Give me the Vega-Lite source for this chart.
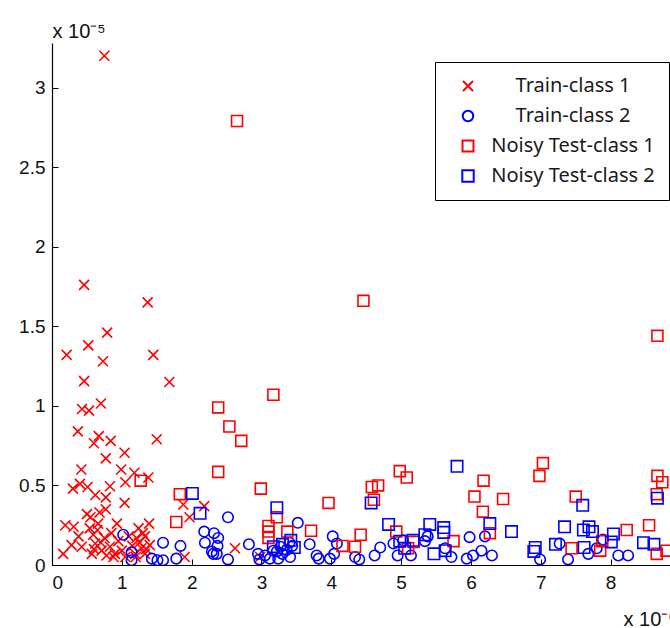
{
  "$schema": "https://vega.github.io/schema/vega-lite/v6.json",
  "width": 618,
  "height": 522,
  "autosize": {"type": "none"},
  "padding": {"left": 52, "top": 43, "right": 0, "bottom": 63},
  "background": "white",
  "config": {
    "view": {"stroke": null},
    "axis": {
      "domainColor": "black",
      "domainWidth": 1.2,
      "tickColor": "black",
      "tickWidth": 1,
      "grid": false,
      "labelFont": "Liberation Sans",
      "labelFontSize": 19,
      "labelColor": "#111111",
      "titleFont": "Liberation Sans",
      "titleFontSize": 20,
      "titleFontWeight": "normal",
      "titleColor": "#111111"
    },
    "legend": {
      "labelFont": "Noto Sans",
      "labelFontSize": 20,
      "labelColor": "#1a1a1a",
      "labelLimit": 400
    }
  },
  "data": {
    "values": [
      {"series": "Train-class 1", "x": 0.75, "y": 3.2},
      {"series": "Train-class 1", "x": 0.46, "y": 1.76},
      {"series": "Train-class 1", "x": 1.37, "y": 1.65},
      {"series": "Train-class 1", "x": 0.79, "y": 1.46},
      {"series": "Train-class 1", "x": 0.52, "y": 1.38},
      {"series": "Train-class 1", "x": 0.21, "y": 1.32},
      {"series": "Train-class 1", "x": 0.73, "y": 1.28},
      {"series": "Train-class 1", "x": 1.45, "y": 1.32},
      {"series": "Train-class 1", "x": 0.46, "y": 1.155},
      {"series": "Train-class 1", "x": 1.68, "y": 1.15},
      {"series": "Train-class 1", "x": 0.7, "y": 1.015},
      {"series": "Train-class 1", "x": 0.43, "y": 0.98},
      {"series": "Train-class 1", "x": 0.53, "y": 0.97},
      {"series": "Train-class 1", "x": 0.37, "y": 0.84},
      {"series": "Train-class 1", "x": 0.67, "y": 0.81},
      {"series": "Train-class 1", "x": 0.6, "y": 0.765},
      {"series": "Train-class 1", "x": 0.84, "y": 0.78},
      {"series": "Train-class 1", "x": 1.5, "y": 0.79},
      {"series": "Train-class 1", "x": 1.04, "y": 0.705},
      {"series": "Train-class 1", "x": 0.77, "y": 0.67},
      {"series": "Train-class 1", "x": 0.42, "y": 0.6},
      {"series": "Train-class 1", "x": 0.99, "y": 0.6},
      {"series": "Train-class 1", "x": 1.18, "y": 0.58},
      {"series": "Train-class 1", "x": 1.05, "y": 0.52},
      {"series": "Train-class 1", "x": 1.38, "y": 0.55},
      {"series": "Train-class 1", "x": 0.3, "y": 0.48},
      {"series": "Train-class 1", "x": 0.4, "y": 0.51},
      {"series": "Train-class 1", "x": 0.51, "y": 0.49},
      {"series": "Train-class 1", "x": 0.83, "y": 0.495},
      {"series": "Train-class 1", "x": 0.62, "y": 0.44},
      {"series": "Train-class 1", "x": 0.77, "y": 0.425},
      {"series": "Train-class 1", "x": 1.04, "y": 0.39},
      {"series": "Train-class 1", "x": 1.88, "y": 0.38},
      {"series": "Train-class 1", "x": 1.97, "y": 0.3},
      {"series": "Train-class 1", "x": 0.5, "y": 0.32},
      {"series": "Train-class 1", "x": 0.77, "y": 0.35},
      {"series": "Train-class 1", "x": 0.19, "y": 0.25},
      {"series": "Train-class 1", "x": 0.31, "y": 0.24},
      {"series": "Train-class 1", "x": 0.54, "y": 0.23},
      {"series": "Train-class 1", "x": 0.66, "y": 0.26},
      {"series": "Train-class 1", "x": 0.93, "y": 0.26},
      {"series": "Train-class 1", "x": 1.39, "y": 0.26},
      {"series": "Train-class 1", "x": 1.24, "y": 0.23},
      {"series": "Train-class 1", "x": 0.38, "y": 0.18},
      {"series": "Train-class 1", "x": 0.59, "y": 0.19},
      {"series": "Train-class 1", "x": 0.75, "y": 0.17},
      {"series": "Train-class 1", "x": 1.21, "y": 0.17},
      {"series": "Train-class 1", "x": 1.33, "y": 0.18},
      {"series": "Train-class 1", "x": 0.16, "y": 0.07},
      {"series": "Train-class 1", "x": 0.28, "y": 0.125},
      {"series": "Train-class 1", "x": 0.425, "y": 0.115},
      {"series": "Train-class 1", "x": 0.62, "y": 0.135},
      {"series": "Train-class 1", "x": 0.71, "y": 0.09},
      {"series": "Train-class 1", "x": 0.83, "y": 0.115},
      {"series": "Train-class 1", "x": 0.9, "y": 0.07},
      {"series": "Train-class 1", "x": 0.78, "y": 0.06},
      {"series": "Train-class 1", "x": 1.0, "y": 0.09},
      {"series": "Train-class 1", "x": 1.28, "y": 0.105},
      {"series": "Train-class 1", "x": 1.4, "y": 0.125},
      {"series": "Train-class 1", "x": 1.33, "y": 0.07},
      {"series": "Train-class 1", "x": 1.9, "y": 0.05},
      {"series": "Train-class 1", "x": 1.19, "y": 0.07},
      {"series": "Train-class 1", "x": 0.57, "y": 0.07},
      {"series": "Train-class 1", "x": 0.65, "y": 0.22},
      {"series": "Train-class 1", "x": 0.7, "y": 0.14},
      {"series": "Train-class 1", "x": 0.85, "y": 0.2},
      {"series": "Train-class 1", "x": 0.95, "y": 0.15},
      {"series": "Train-class 1", "x": 1.1, "y": 0.18},
      {"series": "Train-class 1", "x": 1.15, "y": 0.12},
      {"series": "Train-class 1", "x": 1.25, "y": 0.14},
      {"series": "Train-class 1", "x": 1.3, "y": 0.2},
      {"series": "Train-class 1", "x": 0.6, "y": 0.1},
      {"series": "Train-class 1", "x": 0.88, "y": 0.05},
      {"series": "Train-class 1", "x": 1.05, "y": 0.05},
      {"series": "Train-class 1", "x": 1.2, "y": 0.05},
      {"series": "Train-class 1", "x": 0.55, "y": 0.3},
      {"series": "Train-class 1", "x": 0.68, "y": 0.33},
      {"series": "Train-class 1", "x": 1.35, "y": 0.1},
      {"series": "Train-class 1", "x": 2.18, "y": 0.37},
      {"series": "Train-class 1", "x": 2.62, "y": 0.105},
      {"series": "Train-class 1", "x": 2.98, "y": 0.05},

      {"series": "Train-class 2", "x": 1.02, "y": 0.19},
      {"series": "Train-class 2", "x": 1.14, "y": 0.08},
      {"series": "Train-class 2", "x": 1.14, "y": 0.03},
      {"series": "Train-class 2", "x": 1.43, "y": 0.04},
      {"series": "Train-class 2", "x": 1.51, "y": 0.03},
      {"series": "Train-class 2", "x": 1.59, "y": 0.14},
      {"series": "Train-class 2", "x": 1.59, "y": 0.03},
      {"series": "Train-class 2", "x": 1.78, "y": 0.04},
      {"series": "Train-class 2", "x": 1.84, "y": 0.12},
      {"series": "Train-class 2", "x": 2.18, "y": 0.21},
      {"series": "Train-class 2", "x": 2.32, "y": 0.2},
      {"series": "Train-class 2", "x": 2.19, "y": 0.14},
      {"series": "Train-class 2", "x": 2.38, "y": 0.17},
      {"series": "Train-class 2", "x": 2.37, "y": 0.12},
      {"series": "Train-class 2", "x": 2.29, "y": 0.085},
      {"series": "Train-class 2", "x": 2.36, "y": 0.07},
      {"series": "Train-class 2", "x": 2.31, "y": 0.07},
      {"series": "Train-class 2", "x": 2.52, "y": 0.3},
      {"series": "Train-class 2", "x": 2.52, "y": 0.035},
      {"series": "Train-class 2", "x": 2.82, "y": 0.13},
      {"series": "Train-class 2", "x": 2.95, "y": 0.07},
      {"series": "Train-class 2", "x": 2.97, "y": 0.035},
      {"series": "Train-class 2", "x": 3.05, "y": 0.06},
      {"series": "Train-class 2", "x": 3.12, "y": 0.04},
      {"series": "Train-class 2", "x": 3.17, "y": 0.09},
      {"series": "Train-class 2", "x": 3.22, "y": 0.085},
      {"series": "Train-class 2", "x": 3.27, "y": 0.115},
      {"series": "Train-class 2", "x": 3.24, "y": 0.04},
      {"series": "Train-class 2", "x": 3.3, "y": 0.07},
      {"series": "Train-class 2", "x": 3.36, "y": 0.095},
      {"series": "Train-class 2", "x": 3.41, "y": 0.05},
      {"series": "Train-class 2", "x": 3.44, "y": 0.12},
      {"series": "Train-class 2", "x": 3.4, "y": 0.14},
      {"series": "Train-class 2", "x": 3.52, "y": 0.265},
      {"series": "Train-class 2", "x": 3.69, "y": 0.13},
      {"series": "Train-class 2", "x": 3.79, "y": 0.06},
      {"series": "Train-class 2", "x": 3.82, "y": 0.04},
      {"series": "Train-class 2", "x": 3.98, "y": 0.04},
      {"series": "Train-class 2", "x": 4.02, "y": 0.18},
      {"series": "Train-class 2", "x": 4.08, "y": 0.135},
      {"series": "Train-class 2", "x": 4.04, "y": 0.07},
      {"series": "Train-class 2", "x": 4.34, "y": 0.05},
      {"series": "Train-class 2", "x": 4.4, "y": 0.035},
      {"series": "Train-class 2", "x": 4.62, "y": 0.06},
      {"series": "Train-class 2", "x": 4.7, "y": 0.11},
      {"series": "Train-class 2", "x": 4.89, "y": 0.135},
      {"series": "Train-class 2", "x": 4.95, "y": 0.06},
      {"series": "Train-class 2", "x": 5.03, "y": 0.155},
      {"series": "Train-class 2", "x": 5.14, "y": 0.06},
      {"series": "Train-class 2", "x": 5.34, "y": 0.15},
      {"series": "Train-class 2", "x": 5.38, "y": 0.18},
      {"series": "Train-class 2", "x": 5.63, "y": 0.105},
      {"series": "Train-class 2", "x": 5.72, "y": 0.05},
      {"series": "Train-class 2", "x": 5.94, "y": 0.04},
      {"series": "Train-class 2", "x": 5.98, "y": 0.175},
      {"series": "Train-class 2", "x": 6.03, "y": 0.06},
      {"series": "Train-class 2", "x": 6.15, "y": 0.09},
      {"series": "Train-class 2", "x": 6.2, "y": 0.18},
      {"series": "Train-class 2", "x": 6.3, "y": 0.06},
      {"series": "Train-class 2", "x": 6.99, "y": 0.035},
      {"series": "Train-class 2", "x": 7.27, "y": 0.135},
      {"series": "Train-class 2", "x": 7.39, "y": 0.035},
      {"series": "Train-class 2", "x": 7.68, "y": 0.07},
      {"series": "Train-class 2", "x": 7.8, "y": 0.105},
      {"series": "Train-class 2", "x": 7.89, "y": 0.16},
      {"series": "Train-class 2", "x": 8.11, "y": 0.06},
      {"series": "Train-class 2", "x": 8.25, "y": 0.06},

      {"series": "Noisy Test-class 1", "x": 2.65, "y": 2.79},
      {"series": "Noisy Test-class 1", "x": 4.46, "y": 1.66},
      {"series": "Noisy Test-class 1", "x": 8.67, "y": 1.44},
      {"series": "Noisy Test-class 1", "x": 3.17, "y": 1.07},
      {"series": "Noisy Test-class 1", "x": 2.38, "y": 0.99},
      {"series": "Noisy Test-class 1", "x": 2.54, "y": 0.87},
      {"series": "Noisy Test-class 1", "x": 2.71, "y": 0.78},
      {"series": "Noisy Test-class 1", "x": 2.38, "y": 0.585},
      {"series": "Noisy Test-class 1", "x": 2.99, "y": 0.48},
      {"series": "Noisy Test-class 1", "x": 3.96, "y": 0.39},
      {"series": "Noisy Test-class 1", "x": 3.1, "y": 0.245},
      {"series": "Noisy Test-class 1", "x": 3.1, "y": 0.21},
      {"series": "Noisy Test-class 1", "x": 3.1, "y": 0.17},
      {"series": "Noisy Test-class 1", "x": 3.22, "y": 0.3},
      {"series": "Noisy Test-class 1", "x": 3.37, "y": 0.21},
      {"series": "Noisy Test-class 1", "x": 3.71, "y": 0.215},
      {"series": "Noisy Test-class 1", "x": 4.16, "y": 0.12},
      {"series": "Noisy Test-class 1", "x": 4.34, "y": 0.115},
      {"series": "Noisy Test-class 1", "x": 4.42, "y": 0.19},
      {"series": "Noisy Test-class 1", "x": 4.58, "y": 0.49},
      {"series": "Noisy Test-class 1", "x": 4.67, "y": 0.5},
      {"series": "Noisy Test-class 1", "x": 4.61, "y": 0.41},
      {"series": "Noisy Test-class 1", "x": 4.98, "y": 0.59},
      {"series": "Noisy Test-class 1", "x": 5.08, "y": 0.55},
      {"series": "Noisy Test-class 1", "x": 4.93, "y": 0.21},
      {"series": "Noisy Test-class 1", "x": 5.1, "y": 0.105},
      {"series": "Noisy Test-class 1", "x": 5.18, "y": 0.145},
      {"series": "Noisy Test-class 1", "x": 5.75, "y": 0.15},
      {"series": "Noisy Test-class 1", "x": 6.18, "y": 0.53},
      {"series": "Noisy Test-class 1", "x": 6.05, "y": 0.43},
      {"series": "Noisy Test-class 1", "x": 6.17, "y": 0.335},
      {"series": "Noisy Test-class 1", "x": 6.46, "y": 0.415},
      {"series": "Noisy Test-class 1", "x": 6.27, "y": 0.2},
      {"series": "Noisy Test-class 1", "x": 7.03, "y": 0.64},
      {"series": "Noisy Test-class 1", "x": 6.98, "y": 0.56},
      {"series": "Noisy Test-class 1", "x": 7.5, "y": 0.43},
      {"series": "Noisy Test-class 1", "x": 7.44, "y": 0.105},
      {"series": "Noisy Test-class 1", "x": 7.85, "y": 0.09},
      {"series": "Noisy Test-class 1", "x": 7.88, "y": 0.15},
      {"series": "Noisy Test-class 1", "x": 8.23, "y": 0.22},
      {"series": "Noisy Test-class 1", "x": 8.55, "y": 0.25},
      {"series": "Noisy Test-class 1", "x": 8.67, "y": 0.56},
      {"series": "Noisy Test-class 1", "x": 8.74, "y": 0.52},
      {"series": "Noisy Test-class 1", "x": 8.66, "y": 0.445},
      {"series": "Noisy Test-class 1", "x": 8.66, "y": 0.07},
      {"series": "Noisy Test-class 1", "x": 8.8, "y": 0.09},
      {"series": "Noisy Test-class 1", "x": 1.27, "y": 0.53},
      {"series": "Noisy Test-class 1", "x": 1.83, "y": 0.445},
      {"series": "Noisy Test-class 1", "x": 1.78, "y": 0.27},

      {"series": "Noisy Test-class 2", "x": 2.01, "y": 0.45},
      {"series": "Noisy Test-class 2", "x": 2.12, "y": 0.325},
      {"series": "Noisy Test-class 2", "x": 3.22, "y": 0.36},
      {"series": "Noisy Test-class 2", "x": 3.42, "y": 0.155},
      {"series": "Noisy Test-class 2", "x": 3.17, "y": 0.115},
      {"series": "Noisy Test-class 2", "x": 3.47, "y": 0.11},
      {"series": "Noisy Test-class 2", "x": 3.3, "y": 0.13},
      {"series": "Noisy Test-class 2", "x": 4.57, "y": 0.39},
      {"series": "Noisy Test-class 2", "x": 4.82, "y": 0.255},
      {"series": "Noisy Test-class 2", "x": 4.98, "y": 0.15},
      {"series": "Noisy Test-class 2", "x": 5.05, "y": 0.105},
      {"series": "Noisy Test-class 2", "x": 5.41, "y": 0.255},
      {"series": "Noisy Test-class 2", "x": 5.61, "y": 0.235},
      {"series": "Noisy Test-class 2", "x": 5.61, "y": 0.205},
      {"series": "Noisy Test-class 2", "x": 5.34, "y": 0.19},
      {"series": "Noisy Test-class 2", "x": 5.17, "y": 0.155},
      {"series": "Noisy Test-class 2", "x": 5.47, "y": 0.07},
      {"series": "Noisy Test-class 2", "x": 5.63, "y": 0.09},
      {"series": "Noisy Test-class 2", "x": 5.8, "y": 0.62},
      {"series": "Noisy Test-class 2", "x": 6.27, "y": 0.26},
      {"series": "Noisy Test-class 2", "x": 6.58, "y": 0.21},
      {"series": "Noisy Test-class 2", "x": 6.9, "y": 0.085},
      {"series": "Noisy Test-class 2", "x": 6.92, "y": 0.11},
      {"series": "Noisy Test-class 2", "x": 7.21, "y": 0.13},
      {"series": "Noisy Test-class 2", "x": 7.34, "y": 0.24},
      {"series": "Noisy Test-class 2", "x": 7.6, "y": 0.375},
      {"series": "Noisy Test-class 2", "x": 7.61, "y": 0.22},
      {"series": "Noisy Test-class 2", "x": 7.69, "y": 0.24},
      {"series": "Noisy Test-class 2", "x": 7.74, "y": 0.21},
      {"series": "Noisy Test-class 2", "x": 8.04, "y": 0.195},
      {"series": "Noisy Test-class 2", "x": 8.01, "y": 0.145},
      {"series": "Noisy Test-class 2", "x": 8.47, "y": 0.14},
      {"series": "Noisy Test-class 2", "x": 8.62, "y": 0.13},
      {"series": "Noisy Test-class 2", "x": 8.67, "y": 0.42},
      {"series": "Noisy Test-class 2", "x": 7.62, "y": 0.11}
    ]
  },
  "mark": {"type": "point", "filled": false, "strokeWidth": 1.6, "clip": true, "opacity": 1},
  "encoding": {
    "x": {
      "field": "x",
      "type": "quantitative",
      "scale": {"domain": [0, 8.85], "nice": false, "zero": false},
      "axis": {
        "values": [0, 1, 2, 3, 4, 5, 6, 7, 8],
        "format": "~f",
        "tickSize": -6,
        "labelPadding": 14,
        "title": "x 10⁻⁶",
        "titleAnchor": "start",
        "titleAlign": "left",
        "titleBaseline": "alphabetic",
        "titleX": 571,
        "titleY": 60
      }
    },
    "y": {
      "field": "y",
      "type": "quantitative",
      "scale": {"domain": [0, 3.28], "nice": false, "zero": false},
      "axis": {
        "values": [0, 0.5, 1, 1.5, 2, 2.5, 3],
        "format": ".1~f",
        "tickSize": -6,
        "labelPadding": 13,
        "title": "x 10⁻⁵",
        "titleAngle": 0,
        "titleAlign": "left",
        "titleBaseline": "alphabetic",
        "titleX": 0,
        "titleY": -6
      }
    },
    "color": {
      "field": "series",
      "type": "nominal",
      "sort": ["Train-class 1", "Train-class 2", "Noisy Test-class 1", "Noisy Test-class 2"],
      "scale": {
        "domain": ["Train-class 1", "Train-class 2", "Noisy Test-class 1", "Noisy Test-class 2"],
        "range": ["#ff0000", "#0000ff", "#ff0000", "#0000ff"]
      },
      "legend": {
        "title": null,
        "orient": "none",
        "legendX": 383,
        "legendY": 19,
        "strokeColor": "black",
        "fillColor": "white",
        "padding": 14,
        "symbolOffset": 9,
        "labelOffset": 95,
        "labelAlign": "center",
        "rowPadding": 10,
        "symbolStrokeWidth": 2,
        "symbolSize": 100
      }
    },
    "shape": {
      "field": "series",
      "type": "nominal",
      "scale": {
        "domain": ["Train-class 1", "Train-class 2", "Noisy Test-class 1", "Noisy Test-class 2"],
        "range": ["M-1,-1L1,1M-1,1L1,-1", "circle", "square", "square"]
      }
    },
    "size": {
      "field": "series",
      "type": "nominal",
      "scale": {
        "domain": ["Train-class 1", "Train-class 2", "Noisy Test-class 1", "Noisy Test-class 2"],
        "range": [100, 130, 150, 150]
      },
      "legend": null
    }
  }
}
